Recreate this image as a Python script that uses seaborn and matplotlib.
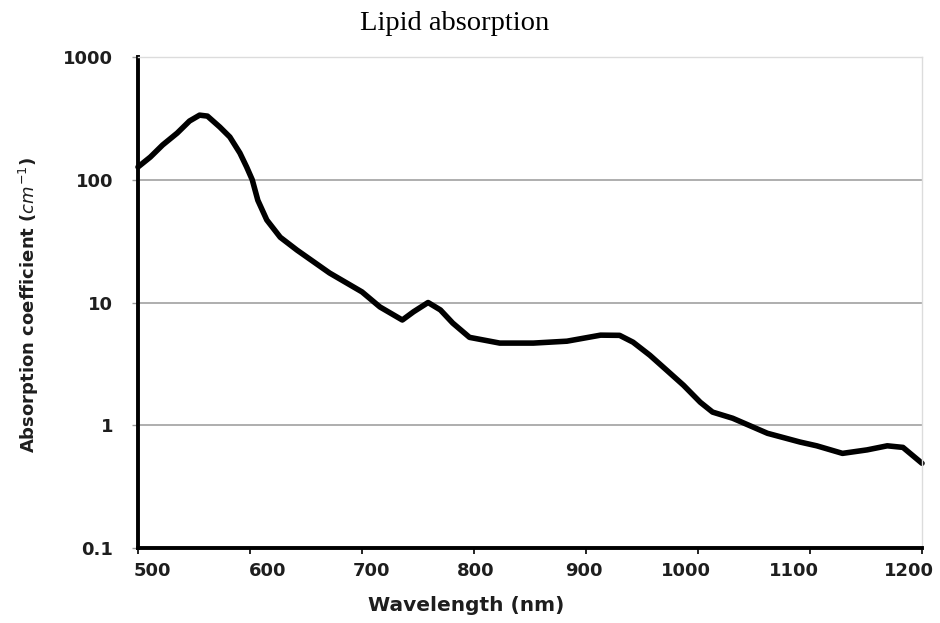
import matplotlib
matplotlib.use("Agg")
import matplotlib.pyplot as plt
import matplotlib.transforms as mtransforms
import seaborn as sns
import pandas as pd
from matplotlib.ticker import FixedLocator, FixedFormatter, NullLocator

# ---- data ----
wavelength = [500, 511, 522, 535, 546, 555, 562, 573, 582, 591, 597, 602, 607,
              615, 627, 642, 671, 700, 716, 736, 746, 759, 770, 781, 796, 823,
              853, 883, 913, 930, 942, 957, 972, 987, 1002, 1013, 1031, 1062,
              1091, 1106, 1129, 1151, 1169, 1183, 1200]
absorption = [127, 153, 192, 240, 301, 336, 330, 269, 223, 165, 127, 100, 68,
              47, 34, 26.7, 17.4, 12.2, 9.2, 7.2, 8.4, 10.0, 8.7, 6.8, 5.2,
              4.67, 4.67, 4.84, 5.42, 5.4, 4.75, 3.72, 2.81, 2.12, 1.54, 1.28,
              1.14, 0.86, 0.73, 0.68, 0.59, 0.63, 0.68, 0.66, 0.49]

x_ticks = [500, 600, 700, 800, 900, 1000, 1100, 1200]
x_tick_labels = ["500", "600", "700", "800", "900", "1000", "1100", "1200"]
y_ticks = [0.1, 1, 10, 100, 1000]
y_tick_labels = ["0.1", "1", "10", "100", "1000"]

title = "Lipid absorption"
x_label = "Wavelength (nm)"
y_label = r"Absorption coefficient ($cm^{-1}$)"

df = pd.DataFrame({"wavelength": wavelength, "absorption": absorption})

sns.set_theme(style="white")
plt.rcParams["font.family"] = ["DejaVu Sans"]

fig = plt.figure(figsize=(9.40, 6.23), dpi=100)
ax = fig.add_axes([138 / 940, 1 - 548 / 623, (922 - 138) / 940, (548 - 57) / 623])

sns.lineplot(data=df, x="wavelength", y="absorption", color="black",
             linewidth=4.0, sort=False, estimator=None, ax=ax, clip_on=False,
             solid_capstyle="round", solid_joinstyle="round")

ax.set_yscale("log")
ax.set_xlim(500, 1200)
ax.set_ylim(0.1, 1000)

ax.xaxis.set_major_locator(FixedLocator(x_ticks))
ax.xaxis.set_major_formatter(FixedFormatter(x_tick_labels))
ax.yaxis.set_major_locator(FixedLocator(y_ticks))
ax.yaxis.set_major_formatter(FixedFormatter(y_tick_labels))
ax.yaxis.set_minor_locator(NullLocator())
ax.xaxis.set_minor_locator(NullLocator())

ax.grid(axis="y", color="#a8a8a8", linewidth=1.3)
ax.grid(axis="x", visible=False)
for gl, v in zip(ax.get_ygridlines(), y_ticks):
    if v == 1000:
        gl.set_color("#e8e8e8")
    if v == 0.1:
        gl.set_visible(False)

for s in ["left", "bottom"]:
    ax.spines[s].set_color("black")
    ax.spines[s].set_linewidth(2.8)
for s in ["top", "right"]:
    ax.spines[s].set_color("#dcdcdc")
    ax.spines[s].set_linewidth(1.0)

ax.tick_params(axis="x", which="major", direction="out", length=4, width=1.2,
               color="black", pad=6, labelsize=13, labelcolor="#1e1e1e")
ax.tick_params(axis="y", which="major", direction="out", length=4, width=1.0,
               color="#9a9a9a", pad=14, labelsize=13, labelcolor="#1e1e1e")
ax.tick_params(bottom=True, left=True)
for lbl in ax.get_xticklabels() + ax.get_yticklabels():
    lbl.set_fontweight("bold")

# small horizontal shifts of x tick labels, as in the reference layout (pixels)
x_label_shift_px = [14, 18, 9, 2, -2, -12, -16, -13]
for lbl, dx in zip(ax.get_xticklabels(), x_label_shift_px):
    lbl.set_transform(lbl.get_transform() +
                      mtransforms.ScaledTranslation(dx / 100, 0, fig.dpi_scale_trans))

ax.set_xlabel(x_label, fontsize=14.5, fontweight="bold", color="#1e1e1e")
ax.xaxis.set_label_coords((466 - 138) / 784, -(596 - 548) / 491)
ax.xaxis.label.set_va("top")

ax.set_ylabel(y_label, fontsize=13, fontweight="bold", color="#1e1e1e")
ax.yaxis.set_label_coords(-(138 - 41) / 784, (548 - 305) / 491)

fig.text(455 / 940, 1 - 23 / 623, title, fontsize=20.5, family="Liberation Serif",
         ha="center", va="center", color="black")

fig.savefig("out.png", dpi=100, facecolor="white")
